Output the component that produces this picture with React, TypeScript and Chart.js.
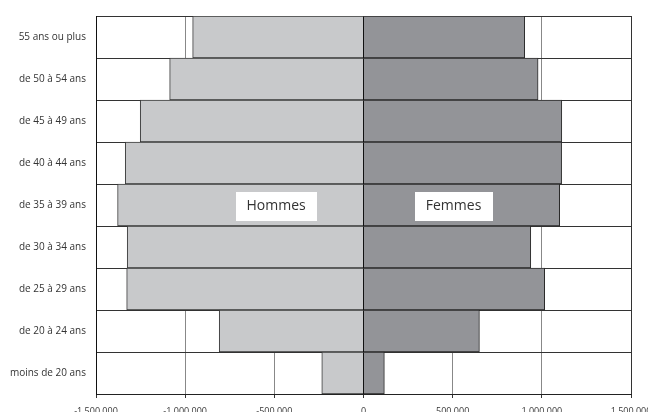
import React, { useEffect, useRef } from "react";
import { Chart, registerables } from "chart.js";

Chart.register(...registerables);

const categories = [
  "55 ans ou plus",
  "de 50 à 54 ans",
  "de 45 à 49 ans",
  "de 40 à 44 ans",
  "de 35 à 39 ans",
  "de 30 à 34 ans",
  "de 25 à 29 ans",
  "de 20 à 24 ans",
  "moins de 20 ans",
];

const hommes = [-958000, -1087000, -1252000, -1336000, -1379000, -1325000, -1328000, -809000, -234000];
const femmes = [904000, 979000, 1112000, 1111000, 1100000, 938000, 1016000, 650000, 117000];

const seriesNames = ["Hommes", "Femmes"];
const seriesLabelX = [-490000, 505000];
const seriesLabelRow = "de 35 à 39 ans";

const xMin = -1500000;
const xMax = 1500000;
const xStep = 500000;

const FONT = '"Open Sans", "DejaVu Sans", sans-serif';

function fmt(v: number): string {
  const s = Math.abs(v).toString().replace(/\B(?=(\d{3})+(?!\d))/g, " ");
  return (v < 0 ? "-" : "") + s;
}

const labelPlugin = {
  id: "seriesLabels",
  afterDatasetsDraw(chart: any) {
    const { ctx, scales } = chart;
    const x = scales.x;
    const y = scales.y;
    ctx.save();
    ctx.font = `14px ${FONT}`;
    ctx.textBaseline = "middle";
    ctx.textAlign = "center";
    const rowIndex = categories.indexOf(seriesLabelRow);
    const cy = y.getPixelForValue(rowIndex) + 1;
    seriesNames.forEach((name, i) => {
      const cx = x.getPixelForValue(seriesLabelX[i]);
      const w = ctx.measureText(name).width + 22;
      const h = 29;
      ctx.fillStyle = "#ffffff";
      ctx.fillRect(Math.round(cx - w / 2), Math.round(cy - h / 2), Math.round(w), h);
      ctx.fillStyle = "#333333";
      ctx.fillText(name, cx, cy);
    });
    ctx.restore();
  },
};

export default function App() {
  const ref = useRef<HTMLCanvasElement | null>(null);

  useEffect(() => {
    if (!ref.current) return;
    const chart = new Chart(ref.current, {
      type: "bar",
      data: {
        labels: categories,
        datasets: [
          {
            label: seriesNames[0],
            data: hommes,
            backgroundColor: "#c8c9cb",
            borderColor: "#3a3a3a",
            borderWidth: 1,
            barPercentage: 1,
            categoryPercentage: 1,
          },
          {
            label: seriesNames[1],
            data: femmes,
            backgroundColor: "#939498",
            borderColor: "#2a2a2a",
            borderWidth: 1,
            barPercentage: 1,
            categoryPercentage: 1,
          },
        ],
      },
      options: {
        indexAxis: "y",
        responsive: false,
        animation: false,
        layout: { padding: { top: 16, right: 49, left: 0, bottom: 0 } },
        plugins: {
          legend: { display: false },
          tooltip: { enabled: false },
        },
        scales: {
          x: {
            stacked: true,
            min: xMin,
            max: xMax,
            ticks: {
              stepSize: xStep,
              callback: (v: any) => fmt(Number(v)),
              font: { family: FONT, size: 9 },
              color: "#333333",
              padding: 8,
              maxRotation: 0,
              autoSkip: false,
            },
            grid: {
              color: (c: any) => (c.tick && c.tick.value === 0 ? "#111111" : c.tick && c.tick.value === xMax ? "#333333" : "#888888"),
              lineWidth: 1,
              drawTicks: true,
              tickLength: 4,
              tickColor: "#333333",
            },
            border: { color: "#222222", width: 1 },
            afterFit: (s: any) => {
              s.height = 36;
            },
          },
          y: {
            stacked: true,
            ticks: {
              font: { family: FONT, size: 10 },
              color: "#333333",
              padding: 10,
            },
            grid: {
              offset: true,
              color: "#333333",
              lineWidth: 1,
              drawTicks: false,
            },
            border: { color: "#111111", width: 1 },
            afterFit: (s: any) => {
              s.width = 96;
            },
          },
        },
      },
      plugins: [labelPlugin],
    } as any);
    return () => chart.destroy();
  }, []);

  return (
    <div
      style={{
        position: "fixed",
        left: 0,
        top: 0,
        width: 648,
        height: 412,
        overflow: "hidden",
        background: "#fff",
      }}
    >
      <canvas ref={ref} width={680} height={430} style={{ display: "block", width: 680, height: 430 }} />
    </div>
  );
}
